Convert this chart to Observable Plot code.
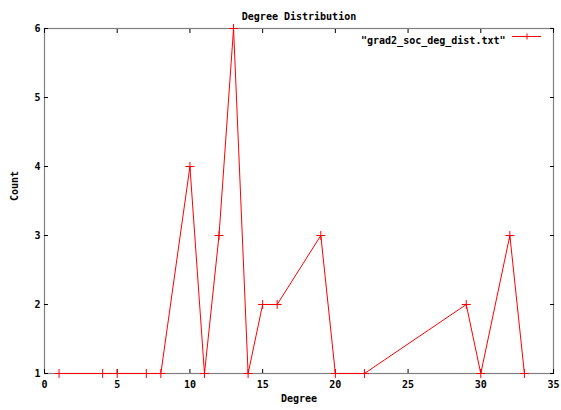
<!DOCTYPE html>
<html><head><meta charset="utf-8">
<script src="https://cdn.jsdelivr.net/npm/d3@7"></script>
<script src="https://cdn.jsdelivr.net/npm/@observablehq/plot@0.6"></script>
<style>body{margin:0;background:#fff}svg{display:block}</style>
</head><body><div id="chart"></div>
<script>
const degree = [1,4,5,7,8,10,11,12,13,14,15,16,19,20,22,29,30,32,33];
const count  = [1,1,1,1,1,4,1,3,6,1,2,2,3,1,1,2,1,3,1];
const xTicks = [0,5,10,15,20,25,30,35];
const yTicks = [1,2,3,4,5,6];
const title = "Degree Distribution";
const xLabel = "Degree";
const yLabel = "Count";
const seriesName = "\"grad2_soc_deg_dist.txt\"";

const data = degree.map((d,i)=>({x:d, y:count[i]}));
const font = "DejaVu Sans Mono";

const svg = Plot.plot({
  width: 561, height: 410,
  marginLeft: 44, marginRight: 8, marginTop: 28, marginBottom: 37,
  style: {fontFamily: font, fontSize: "10px", fontWeight: "bold", background: "#fff", color: "#000"},
  x: {domain: [0,35], ticks: xTicks},
  y: {domain: [1,6], ticks: yTicks},
  marks: [
    Plot.frame({stroke: "#808080", strokeWidth: 1.2}),
    Plot.axisX({anchor: "bottom", ticks: xTicks, tickSize: -4, tickPadding: 11, tickFormat: "d", label: null, stroke: "#000"}),
    Plot.axisX({anchor: "top", ticks: xTicks, tickSize: -4, tickFormat: () => "", label: null, stroke: "#000"}),
    Plot.axisY({anchor: "left", ticks: yTicks, tickSize: -4, tickPadding: 8, tickFormat: "d", label: null, stroke: "#000"}),
    Plot.axisY({anchor: "right", ticks: yTicks, tickSize: -4, tickFormat: () => "", label: null, stroke: "#000"}),
    Plot.line(data, {x: "x", y: "y", stroke: "#ff0000", strokeWidth: 1}),
    Plot.dot(data, {x: "x", y: "y", symbol: "plus", stroke: "#ff0000", r: 3, strokeWidth: 1}),
    Plot.text([title], {frameAnchor: "top", dy: -16, text: d => d, fontSize: 10, fontWeight: "bold"}),
    Plot.text([xLabel], {frameAnchor: "bottom", dy: 28, text: d => d, fontSize: 10, fontWeight: "bold"}),
    Plot.text([yLabel], {frameAnchor: "left", dx: -30, rotate: -90, text: d => d, fontSize: 10, fontWeight: "bold"}),
    Plot.text([seriesName], {frameAnchor: "top-right", dx: -48, dy: 8, textAnchor: "end", text: d => d, fontSize: 10, fontWeight: "bold"})
  ]
});
// legend sample
const g = d3.select(svg).append("g");
g.append("line").attr("x1", 512).attr("x2", 541).attr("y1", 36.5).attr("y2", 36.5).attr("stroke", "#ff0000");
g.append("path").attr("d", "M524,36.5h6M527,33.5v6").attr("stroke", "#ff0000").attr("fill", "none");
document.getElementById("chart").appendChild(svg);
</script>
</body></html>
